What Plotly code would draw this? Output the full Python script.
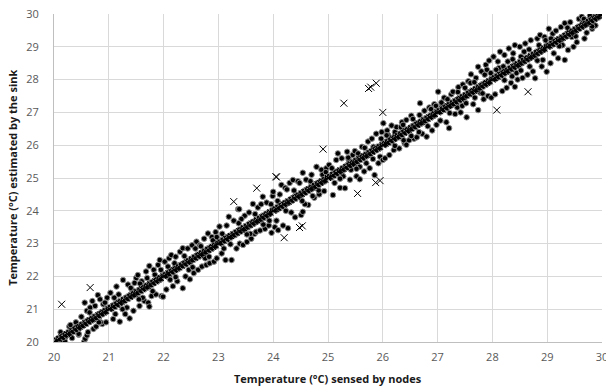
import plotly.graph_objects as go

# ---- Dots: estimates lying close to the sensed value (dense band) ----
band_x = [
 20.02,20.05,20.08,20.11,20.14,20.17,20.20,20.23,20.26,20.29,20.32,20.35,20.38,20.41,20.44,20.47,20.50,20.53,20.56,20.59,20.62,20.65,20.68,20.71,20.74,20.77,20.80,20.83,20.86,20.89,20.92,20.95,20.98,
 21.02,21.05,21.08,21.11,21.14,21.17,21.20,21.23,21.26,21.29,21.32,21.35,21.38,21.41,21.44,21.47,21.50,21.53,21.56,21.59,21.62,21.65,21.68,21.71,21.74,21.77,21.80,21.83,21.86,21.89,21.92,21.95,21.98,
 22.02,22.05,22.08,22.11,22.14,22.17,22.20,22.23,22.26,22.29,22.32,22.35,22.38,22.41,22.44,22.47,22.50,22.53,22.56,22.59,22.62,22.65,22.68,22.71,22.74,22.77,22.80,22.83,22.86,22.89,22.92,22.95,22.98,
 23.02,23.05,23.08,23.11,23.14,23.17,23.20,23.23,23.26,23.29,23.32,23.35,23.38,23.41,23.44,23.47,23.50,23.53,23.56,23.59,23.62,23.65,23.68,23.71,23.74,23.77,23.80,23.83,23.86,23.89,23.92,23.95,23.98,
 24.02,24.05,24.08,24.11,24.14,24.17,24.20,24.23,24.26,24.29,24.32,24.35,24.38,24.41,24.44,24.47,24.50,24.53,24.56,24.59,24.62,24.65,24.68,24.71,24.74,24.77,24.80,24.83,24.86,24.89,24.92,24.95,24.98,
 25.02,25.05,25.08,25.11,25.14,25.17,25.20,25.23,25.26,25.29,25.32,25.35,25.38,25.41,25.44,25.47,25.50,25.53,25.56,25.59,25.62,25.65,25.68,25.71,25.74,25.77,25.80,25.83,25.86,25.89,25.92,25.95,25.98,
 26.02,26.05,26.08,26.11,26.14,26.17,26.20,26.23,26.26,26.29,26.32,26.35,26.38,26.41,26.44,26.47,26.50,26.53,26.56,26.59,26.62,26.65,26.68,26.71,26.74,26.77,26.80,26.83,26.86,26.89,26.92,26.95,26.98,
 27.02,27.05,27.08,27.11,27.14,27.17,27.20,27.23,27.26,27.29,27.32,27.35,27.38,27.41,27.44,27.47,27.50,27.53,27.56,27.59,27.62,27.65,27.68,27.71,27.74,27.77,27.80,27.83,27.86,27.89,27.92,27.95,27.98,
 28.02,28.05,28.08,28.11,28.14,28.17,28.20,28.23,28.26,28.29,28.32,28.35,28.38,28.41,28.44,28.47,28.50,28.53,28.56,28.59,28.62,28.65,28.68,28.71,28.74,28.77,28.80,28.83,28.86,28.89,28.92,28.95,28.98,
 29.02,29.05,29.08,29.11,29.14,29.17,29.20,29.23,29.26,29.29,29.32,29.35,29.38,29.41,29.44,29.47,29.50,29.53,29.56,29.59,29.62,29.65,29.68,29.71,29.74,29.77,29.80,29.83,29.86,29.89,29.92,29.95,29.98,
]
band_y = [
 20.06,20.02,20.12,20.08,20.18,20.13,20.24,20.20,20.30,20.25,20.36,20.31,20.42,20.37,20.48,20.43,20.54,20.49,20.60,20.55,20.66,20.61,20.72,20.67,20.78,20.73,20.84,20.79,20.90,20.85,20.96,20.91,21.02,
 21.06,21.01,21.12,21.07,21.18,21.13,21.24,21.19,21.30,21.25,21.36,21.31,21.42,21.37,21.48,21.43,21.54,21.49,21.60,21.55,21.66,21.61,21.72,21.67,21.78,21.73,21.84,21.79,21.90,21.85,21.96,21.91,22.02,
 22.06,22.01,22.12,22.07,22.18,22.13,22.24,22.19,22.30,22.25,22.36,22.31,22.42,22.37,22.48,22.43,22.54,22.49,22.60,22.55,22.66,22.61,22.72,22.67,22.78,22.73,22.84,22.79,22.90,22.85,22.96,22.91,23.02,
 23.06,23.01,23.12,23.07,23.18,23.13,23.24,23.19,23.30,23.25,23.36,23.31,23.42,23.37,23.48,23.43,23.54,23.49,23.60,23.55,23.66,23.61,23.72,23.67,23.78,23.73,23.84,23.79,23.90,23.85,23.96,23.91,24.02,
 24.06,24.01,24.12,24.07,24.18,24.13,24.24,24.19,24.30,24.25,24.36,24.31,24.42,24.37,24.48,24.43,24.54,24.49,24.60,24.55,24.66,24.61,24.72,24.67,24.78,24.73,24.84,24.79,24.90,24.85,24.96,24.91,25.02,
 25.06,25.01,25.12,25.07,25.18,25.13,25.24,25.19,25.30,25.25,25.36,25.31,25.42,25.37,25.48,25.43,25.54,25.49,25.60,25.55,25.66,25.61,25.72,25.67,25.78,25.73,25.84,25.79,25.90,25.85,25.96,25.91,26.02,
 26.06,26.01,26.12,26.07,26.18,26.13,26.24,26.19,26.30,26.25,26.36,26.31,26.42,26.37,26.48,26.43,26.54,26.49,26.60,26.55,26.66,26.61,26.72,26.67,26.78,26.73,26.84,26.79,26.90,26.85,26.96,26.91,27.02,
 27.06,27.01,27.12,27.07,27.18,27.13,27.24,27.19,27.30,27.25,27.36,27.31,27.42,27.37,27.48,27.43,27.54,27.49,27.60,27.55,27.66,27.61,27.72,27.67,27.78,27.73,27.84,27.79,27.90,27.85,27.96,27.91,28.02,
 28.06,28.01,28.12,28.07,28.18,28.13,28.24,28.19,28.30,28.25,28.36,28.31,28.42,28.37,28.48,28.43,28.54,28.49,28.60,28.55,28.66,28.61,28.72,28.67,28.78,28.73,28.84,28.79,28.90,28.85,28.96,28.91,29.02,
 29.06,29.01,29.12,29.07,29.18,29.13,29.24,29.19,29.30,29.25,29.36,29.31,29.42,29.37,29.48,29.43,29.54,29.49,29.60,29.55,29.66,29.61,29.72,29.67,29.78,29.73,29.84,29.79,29.90,29.85,29.95,29.91,29.99,
]

# ---- Dots: estimates spread around the sensed value ----
spread_x = [
 20.12,20.20,20.28,20.33,20.40,20.45,20.50,20.55,20.57,20.60,20.62,20.56,20.60,20.66,20.70,20.72,20.77,20.80,20.84,20.88,20.90,20.95,20.97,20.75,20.85,20.30,20.45,20.65,20.82,20.93,
 21.03,21.08,21.14,21.20,21.26,21.30,21.35,21.38,21.42,21.45,21.50,21.53,21.56,21.60,21.65,21.68,21.72,21.74,21.74,21.78,21.82,21.86,21.90,21.93,21.96,21.99,21.18,21.33,21.47,21.62,21.84,21.12,21.57,21.10,21.25,21.40,21.55,21.70,21.80,21.95,
 22.02,22.05,22.10,22.14,22.17,22.22,22.25,22.30,22.35,22.35,22.40,22.44,22.48,22.52,22.55,22.60,22.63,22.66,22.70,22.74,22.78,22.81,22.84,22.88,22.92,22.95,22.97,22.20,22.46,22.58,22.76,22.90,22.12,22.08,22.22,22.38,22.53,22.68,22.83,22.97,
 23.02,23.06,23.13,23.19,23.21,23.24,23.28,23.33,23.36,23.38,23.39,23.45,23.48,23.52,23.56,23.60,23.63,23.66,23.69,23.72,23.76,23.81,23.85,23.88,23.92,23.97,23.99,23.15,23.42,23.58,23.78,23.10,23.93,23.07,23.22,23.37,23.52,23.67,23.82,23.96,
 24.00,24.03,24.09,24.15,24.18,24.22,24.27,24.30,24.36,24.40,24.45,24.51,24.54,24.54,24.60,24.64,24.70,24.75,24.79,24.84,24.88,24.93,24.97,24.12,24.33,24.48,24.58,24.72,24.25,24.06,24.90,24.08,24.23,24.38,24.53,24.68,24.83,24.96,
 25.02,25.09,25.15,25.18,25.22,25.25,25.31,25.35,25.40,25.45,25.49,25.52,25.58,25.58,25.62,25.66,25.73,25.76,25.80,25.85,25.88,25.92,25.95,25.98,26.00,25.12,25.28,25.42,25.55,25.70,25.83,25.38,25.07,25.22,25.37,25.52,25.67,25.82,25.97,
 26.01,26.04,26.08,26.12,26.16,26.20,26.25,26.30,26.35,26.40,26.43,26.43,26.48,26.52,26.57,26.62,26.68,26.72,26.76,26.80,26.85,26.90,26.94,26.98,26.22,26.38,26.55,26.66,26.88,26.10,26.33,26.07,26.22,26.37,26.52,26.67,26.82,26.97,
 27.01,27.05,27.12,27.16,27.21,27.25,27.28,27.32,27.38,27.42,27.46,27.53,27.56,27.61,27.65,27.70,27.74,27.74,27.80,27.84,27.88,27.92,27.94,27.98,27.18,27.36,27.50,27.68,27.86,27.08,27.60,27.78,27.90,27.45,27.07,27.22,27.37,27.52,27.67,27.82,27.97,
 28.02,28.05,28.10,28.14,28.18,28.22,28.26,28.30,28.34,28.38,28.41,28.41,28.46,28.50,28.55,28.60,28.64,28.70,28.74,28.78,28.82,28.87,28.90,28.95,28.99,28.28,28.44,28.58,28.68,28.85,28.12,28.36,28.92,28.52,28.20,28.07,28.22,28.37,28.52,28.67,28.82,28.97,
 29.03,29.06,29.10,29.16,29.20,29.25,29.32,29.32,29.38,29.42,29.48,29.54,29.58,29.63,29.68,29.72,29.78,29.82,29.88,29.12,29.28,29.45,29.65,29.07,29.22,29.37,29.52,29.67,29.82,
]
spread_y = [
 20.30,20.02,20.47,20.12,20.60,20.22,20.77,20.00,20.10,20.20,20.30,21.20,20.95,21.05,21.25,20.40,20.47,21.43,21.30,20.55,21.15,20.60,21.35,21.10,20.60,20.52,20.25,20.90,20.60,21.20,
 21.50,20.70,21.69,20.62,21.89,20.85,21.75,20.72,21.60,20.95,21.95,22.04,21.10,21.85,21.25,22.15,21.20,22.32,21.08,21.40,22.20,21.45,22.35,22.50,21.40,21.38,21.45,21.05,21.80,21.35,22.05,20.85,21.78,21.35,21.00,21.65,21.30,21.95,21.55,22.20,
 22.45,21.60,22.55,22.65,21.70,22.60,21.85,22.75,22.86,21.64,22.00,22.85,21.91,22.95,22.10,23.06,22.20,22.95,22.30,23.15,22.35,23.31,22.40,23.20,22.45,23.35,22.55,22.40,22.20,22.85,22.55,23.10,21.90,22.30,21.98,22.62,22.28,22.92,22.60,23.20,
 23.52,22.70,22.50,23.82,23.21,22.50,23.70,22.85,24.05,24.05,23.00,22.96,23.85,23.05,23.95,23.15,24.21,23.30,23.36,24.10,23.40,24.43,23.45,24.25,23.55,23.33,24.45,23.55,23.75,23.30,24.20,22.85,23.70,23.30,22.98,23.62,23.28,23.90,23.58,24.20,
 24.58,23.50,23.41,24.79,23.55,24.70,23.47,24.85,24.94,23.80,24.90,23.87,23.97,25.16,24.95,24.18,25.10,24.40,25.34,24.50,25.25,24.60,25.30,24.50,23.95,24.85,24.20,24.45,24.65,23.70,25.10,24.30,24.00,24.62,24.30,24.90,24.62,25.18,
 25.40,24.48,25.55,25.75,24.70,25.60,24.69,25.80,24.95,25.70,25.82,25.05,25.34,24.96,25.95,25.20,26.11,25.30,26.20,25.09,26.35,25.45,25.65,26.40,25.55,24.85,25.05,25.25,25.75,25.45,25.95,25.55,25.30,24.98,25.62,25.28,25.92,25.58,26.20,
 26.67,25.60,26.45,25.70,26.60,25.85,26.55,25.90,26.70,26.05,26.77,26.01,26.15,26.90,26.20,26.24,27.28,26.35,27.05,26.26,27.15,26.45,27.25,26.62,26.40,26.15,26.80,26.40,27.10,26.30,26.55,26.30,25.98,26.62,26.28,26.92,26.58,27.20,
 27.63,26.75,27.45,26.70,26.52,27.55,27.63,26.95,27.77,27.00,27.85,26.85,27.95,28.16,27.25,28.05,28.39,27.07,28.25,27.40,28.45,27.50,28.58,27.45,27.40,27.15,27.75,27.45,28.15,27.25,27.90,27.60,28.30,27.20,27.30,26.98,27.62,27.28,27.92,27.58,28.20,
 28.70,27.55,28.55,28.85,27.65,28.75,27.75,28.95,27.90,28.80,29.05,27.78,28.00,29.00,28.05,29.10,28.15,29.20,28.25,28.04,29.25,29.36,28.40,29.30,28.24,28.55,28.20,28.85,28.40,29.05,28.35,28.10,28.60,28.70,28.40,28.30,27.98,28.62,28.28,28.92,28.58,29.20,
 29.55,28.50,29.40,29.49,28.65,29.60,29.72,28.60,28.90,29.75,29.00,29.14,29.85,29.92,29.25,29.43,29.95,29.55,29.65,28.80,29.05,29.30,29.80,29.25,29.02,29.58,29.32,29.85,29.62,
]

# ---- Crosses: readings where the sink's estimate equals the sensed value ----
exact_temps = [
 20.00,20.05,20.09,20.14,20.19,20.24,20.28,20.33,20.38,20.43,20.47,20.52,20.57,20.62,20.66,20.71,20.76,20.81,20.85,20.90,20.95,
 21.00,21.04,21.09,21.14,21.19,21.23,21.28,21.33,21.38,21.42,21.47,21.52,21.57,21.61,21.66,21.71,21.76,21.80,21.85,21.90,21.95,
 22.00,22.05,22.09,22.14,22.19,22.24,22.28,22.33,22.38,22.43,22.47,22.52,22.57,22.62,22.66,22.71,22.76,22.81,22.85,22.90,22.95,
 23.00,23.04,23.09,23.14,23.19,23.23,23.28,23.33,23.38,23.42,23.47,23.52,23.57,23.61,23.66,23.71,23.76,23.80,23.85,23.90,23.95,
 24.00,24.05,24.09,24.14,24.19,24.24,24.28,24.33,24.38,24.43,24.47,24.52,24.57,24.62,24.66,24.71,24.76,24.81,24.85,24.90,24.95,
 25.00,25.04,25.09,25.14,25.19,25.23,25.28,25.33,25.38,25.42,25.47,25.52,25.57,25.61,25.66,25.71,25.76,25.80,25.85,25.90,25.95,
 26.00,26.05,26.09,26.14,26.19,26.24,26.28,26.33,26.38,26.43,26.47,26.52,26.57,26.62,26.66,26.71,26.76,26.81,26.85,26.90,26.95,
 27.00,27.04,27.09,27.14,27.19,27.23,27.28,27.33,27.38,27.42,27.47,27.52,27.57,27.61,27.66,27.71,27.76,27.80,27.85,27.90,27.95,
 28.00,28.05,28.09,28.14,28.19,28.24,28.28,28.33,28.38,28.43,28.47,28.52,28.57,28.62,28.66,28.71,28.76,28.81,28.85,28.90,28.95,
 29.00,29.04,29.09,29.14,29.19,29.23,29.28,29.33,29.38,29.42,29.47,29.52,29.57,29.61,29.66,29.71,29.76,29.80,29.85,29.90,29.95,30.00,
]
# ---- Crosses: outlying estimates ----
cross_x = [20.14,20.66,23.28,23.70,24.05,24.06,24.91,25.29,25.74,25.78,25.88,26.00,28.65,28.08,25.54,25.87,25.95,24.48,24.53,24.20]
cross_y = [21.15,21.66,24.28,24.69,25.04,25.03,25.88,27.28,27.73,27.77,27.89,27.00,27.63,27.07,24.53,24.86,24.92,23.49,23.54,23.18]

tick_vals = [20, 21, 22, 23, 24, 25, 26, 27, 28, 29, 30]
x_title = "Temperature (°C) sensed by nodes"
y_title = "Temperature (°C) estimated by the sink"

FONT = "Open Sans, Liberation Sans, sans-serif"
dot_marker = dict(symbol="circle", size=5.5, color="#000000", line=dict(color="#8c8c8c", width=1))

fig = go.Figure()
fig.add_trace(go.Scatter(x=spread_x, y=spread_y, mode="markers", marker=dot_marker,
                         showlegend=False, hoverinfo="skip"))
fig.add_trace(go.Scatter(x=band_x, y=band_y, mode="markers", marker=dot_marker,
                         showlegend=False, hoverinfo="skip"))
fig.add_trace(go.Scatter(
    x=exact_temps, y=exact_temps, mode="markers",
    marker=dict(symbol="x-thin", size=6, color="#000000", line=dict(color="#000000", width=1)),
    showlegend=False, hoverinfo="skip"))
fig.add_trace(go.Scatter(
    x=cross_x, y=cross_y, mode="markers",
    marker=dict(symbol="x-thin", size=7, color="#000000", line=dict(color="#000000", width=1)),
    showlegend=False, hoverinfo="skip"))

axis_common = dict(
    range=[20, 30], tickvals=tick_vals, showgrid=True, gridcolor="#d9d9d9", gridwidth=1,
    zeroline=False, showline=True, linecolor="#bfbfbf", linewidth=1, ticks="",
    automargin=False, ticklabeloverflow="allow",
    tickfont=dict(family=FONT, size=11, color="#595959"),
)
fig.update_layout(
    width=606, height=387,
    margin=dict(l=54, r=4, t=14, b=45),
    paper_bgcolor="white", plot_bgcolor="white",
    xaxis=dict(**axis_common, ticklabelstandoff=5),
    yaxis=dict(**axis_common, ticklabelstandoff=12),
    annotations=[
        dict(text="<b>" + x_title + "</b>", xref="paper", yref="paper", x=0.5, y=-0.11,
             xanchor="center", yanchor="middle", showarrow=False,
             font=dict(family=FONT, size=11, color="#1a1a1a")),
        dict(text="<b>" + y_title + "</b>", xref="paper", yref="paper", x=-0.077, y=0.5,
             xanchor="center", yanchor="middle", textangle=-90, showarrow=False,
             font=dict(family=FONT, size=11, color="#1a1a1a")),
    ],
)
fig.write_html("out.html", config={"displayModeBar": False},
               post_script="document.body.style.margin='0';document.body.style.overflow='hidden';")
